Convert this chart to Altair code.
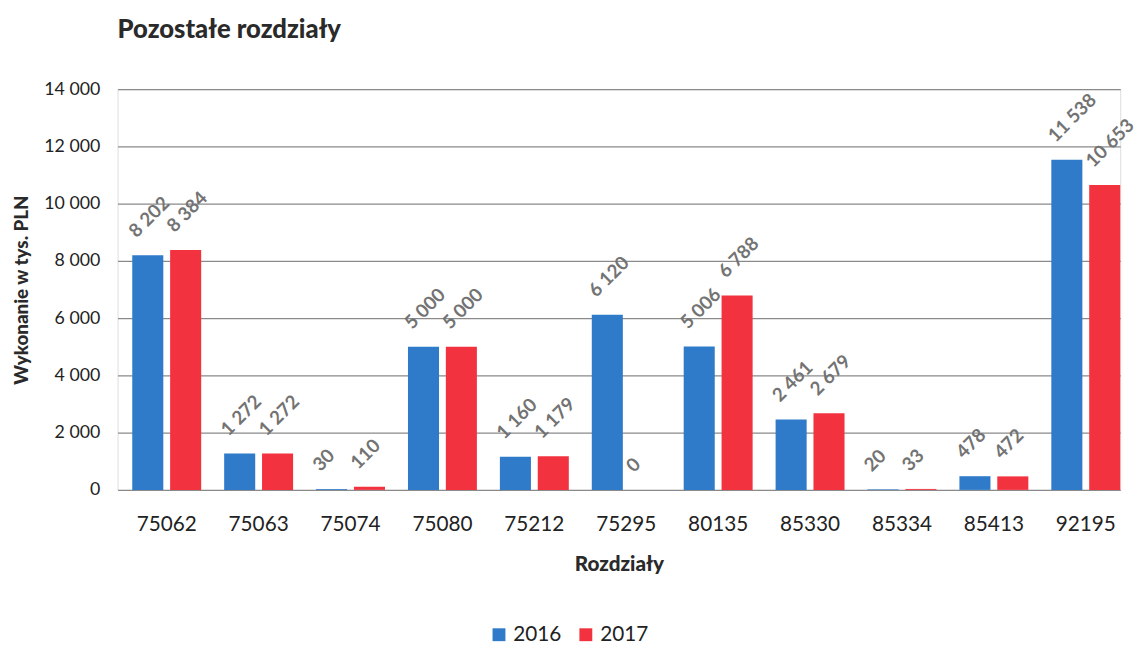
import altair as alt
import pandas as pd

categories = ["75062", "75063", "75074", "75080", "75212", "75295", "80135", "85330", "85334", "85413", "92195"]
years = ["2016", "2017"]
values_2016 = [8202, 1272, 30, 5000, 1160, 6120, 5006, 2461, 20, 478, 11538]
values_2017 = [8384, 1272, 110, 5000, 1179, 0, 6788, 2679, 33, 472, 10653]
y_ticks = [0, 2000, 4000, 6000, 8000, 10000, 12000, 14000]

rows = []
for c, a, b in zip(categories, values_2016, values_2017):
    rows.append({"Rozdział": c, "Rok": "2016", "Wartość": a})
    rows.append({"Rozdział": c, "Rok": "2017", "Wartość": b})
df = pd.DataFrame(rows)

FONT = "Lato"

x = alt.X("Rozdział:N", sort=categories,
          scale=alt.Scale(paddingInner=0.25, paddingOuter=0.08, align=1),
          axis=alt.Axis(title="Rozdziały", labelAngle=0, labelFontSize=21, labelColor="#222",
                        labelFont=FONT, labelPadding=24, ticks=False, domain=False,
                        titleFontSize=21, titleFont=FONT, titleFontWeight=900,
                        titleColor="#2a2a2a", titlePadding=20))
y = alt.Y("Wartość:Q", scale=alt.Scale(domain=[0, 14000], nice=False),
          axis=alt.Axis(title="Wykonanie w tys. PLN", values=y_ticks,
                        labelExpr="replace(format(datum.value, ',d'), ',', ' ')",
                        labelFontSize=18, labelColor="#222", labelFont=FONT, labelPadding=18,
                        ticks=False, domain=False, grid=True, gridColor="#8a8a8a", gridWidth=1.3,
                        titleFontSize=19, titleFont=FONT, titleFontWeight=900,
                        titleColor="#2a2a2a", titlePadding=12))
color = alt.Color("Rok:N", scale=alt.Scale(domain=years, range=["#2F7BCA", "#F2333F"]),
                  legend=alt.Legend(title=None, orient="none", legendX=376, legendY=542,
                                    direction="horizontal", symbolType="square", symbolSize=170,
                                    labelFontSize=21, labelFont=FONT, labelColor="#222",
                                    columnPadding=14, symbolStrokeWidth=0))
xoff = alt.XOffset("Rok:N", sort=years, scale=alt.Scale(paddingInner=0.18))

base = alt.Chart(df).encode(x=x, xOffset=xoff)

bars = base.mark_bar().encode(y=y, color=color)

labels = base.transform_calculate(
    lab="replace(format(datum['Wartość'], ',d'), ',', ' ')"
).mark_text(angle=315, align="left", baseline="middle", dx=4, dy=-26,
            fontSize=19, font=FONT, fontWeight="bold", color="#737373").encode(
    y=alt.Y("Wartość:Q"), text="lab:N")

chart = alt.layer(bars, labels).properties(
    width=1016, height=406,
    padding={"left": 5, "top": 5, "right": 0, "bottom": 5},
    title=alt.Title("Pozostałe rozdziały", anchor="start", frame="group", fontSize=26, font=FONT,
                    fontWeight=900, color="#2a2a2a", offset=38),
).configure_view(stroke=None).configure(background="white")

chart.save("out.html", embed_options={"renderer": "svg", "actions": False})
